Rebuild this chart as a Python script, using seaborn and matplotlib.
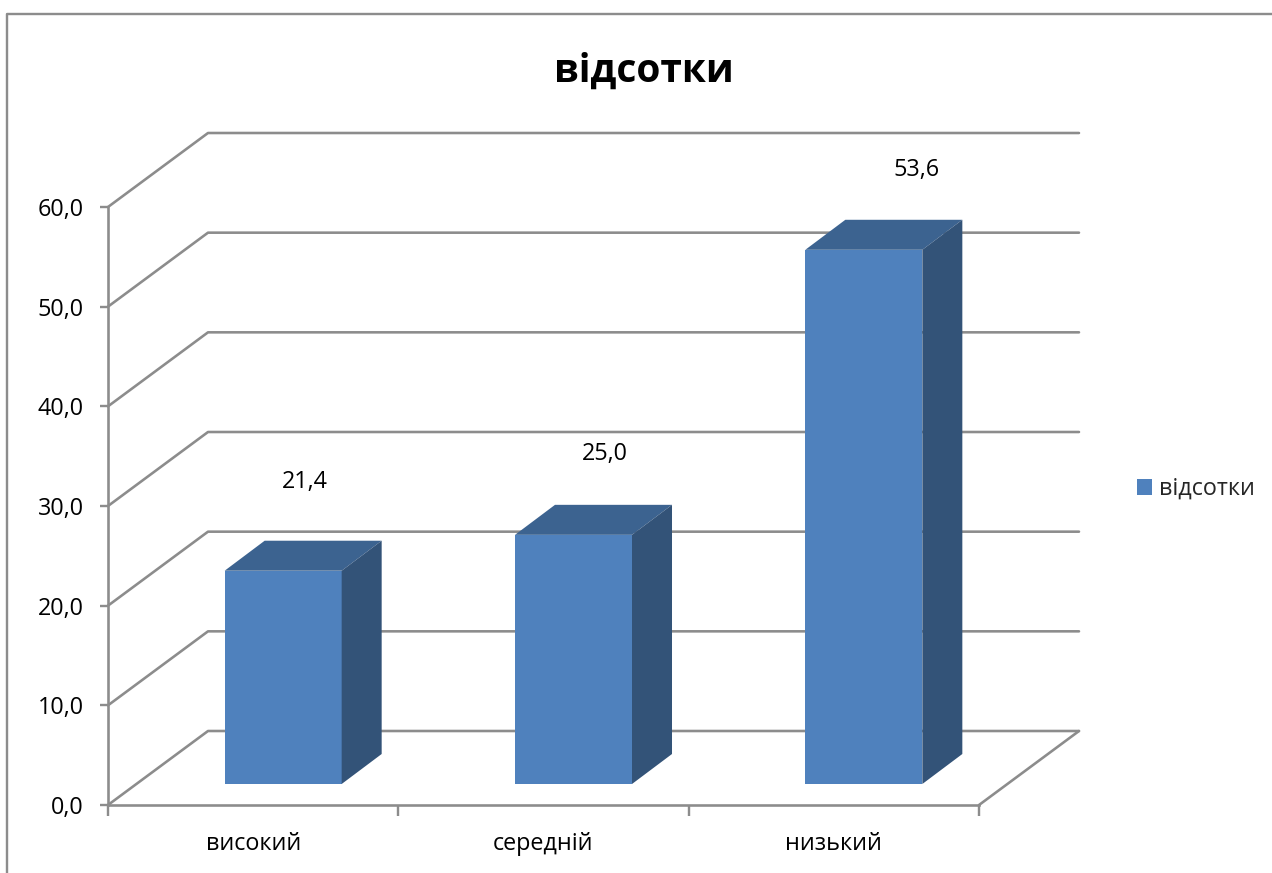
import matplotlib
matplotlib.use('Agg')
import matplotlib.pyplot as plt
import seaborn as sns
from matplotlib.lines import Line2D
from matplotlib.patches import Polygon
from matplotlib.transforms import Affine2D, IdentityTransform

categories = ['високий', 'середній', 'низький']
values = [21.4, 25.0, 53.6]
value_labels = ['21,4', '25,0', '53,6']
y_ticks = [0, 10, 20, 30, 40, 50, 60]
y_tick_labels = ['0,0', '10,0', '20,0', '30,0', '40,0', '50,0', '60,0']
series_name = 'відсотки'

W, H = 1272, 873
GRAY = '#8c8c8c'
FRONT, TOP, SIDE = '#4f81bd', '#3c6390', '#335378'
PX = 0.72  # points per pixel at dpi 100
FONT = 16.8

sns.set_style('white')
plt.rcParams['font.family'] = ['Open Sans', 'DejaVu Sans']
plt.rcParams['axes.unicode_minus'] = False

fig = plt.figure(figsize=(W / 100, H / 100), dpi=100)
ax = fig.add_axes([108 / W, (H - 805) / H, 871 / W, 598 / H])
ax.patch.set_alpha(0)

sns.barplot(x=categories, y=values, width=0.403, color=FRONT, saturation=1,
            linewidth=0, zorder=3, ax=ax)
ax.set_xlim(-0.5, 2.5)
ax.set_ylim(0, 60)

# the chart is a fake 3d one: all depth shifts are in pixels
wall = (100, 74)
bar_shift = (30, 21)
bar_depth = (40, 30)
to_px = ax.transData.transform
px = IdentityTransform()
line_kw = dict(color=GRAY, lw=2.6 * PX, transform=px, clip_on=False, zorder=1,
               solid_capstyle='round')

# back wall and left wall lines
for t in y_ticks:
    x0, y0 = to_px((-0.5, t))
    x1, _ = to_px((2.5, t))
    ax.plot([x0, x0 + wall[0], x1 + wall[0]], [y0, y0 + wall[1], y0 + wall[1]], **line_kw)
# floor edge on the right
x1, y0 = to_px((2.5, 0))
ax.plot([x1, x1 + wall[0]], [y0, y0 + wall[1]], **line_kw)

# move the front faces into the depth and add top and side faces
shift = ax.transData + Affine2D().translate(*bar_shift)
label_offsets = [(22, 91), (31, 83), (53, 82)]
for bar, label, (off, lift) in zip(ax.patches, value_labels, label_offsets):
    bar.set_transform(shift)
    (xa, ya), (xb, yb) = to_px((bar.get_x(), 0)), to_px((bar.get_x() + bar.get_width(), bar.get_height()))
    xa, xb = xa + bar_shift[0], xb + bar_shift[0]
    ya, yb = ya + bar_shift[1], yb + bar_shift[1]
    dx, dy = bar_depth
    ax.add_patch(Polygon([(xa, yb), (xb, yb), (xb + dx, yb + dy), (xa + dx, yb + dy)],
                         closed=True, fc=TOP, ec='none', transform=px, clip_on=False, zorder=3))
    ax.add_patch(Polygon([(xb, ya), (xb + dx, ya + dy), (xb + dx, yb + dy), (xb, yb)],
                         closed=True, fc=SIDE, ec='none', transform=px, clip_on=False, zorder=3))
    ax.annotate(label, xy=((xa + xb) / 2 + off, yb + lift - 2), xycoords=px, ha='center', va='center',
                fontsize=FONT, color='black', zorder=5)

# axes
sns.despine(ax=ax, top=True, right=True)
for side in ['left', 'bottom']:
    ax.spines[side].set_color(GRAY)
    ax.spines[side].set_linewidth(2.6 * PX)
ax.set_yticks(y_ticks, y_tick_labels)
ax.tick_params(axis='y', left=True, length=8 * PX, width=2.4 * PX, color=GRAY, pad=16 * PX,
               labelsize=FONT, labelcolor='black')
ax.set_xticks(range(len(categories)), categories)
ax.set_xticks([-0.5, 0.5, 1.5, 2.5], minor=True)
ax.tick_params(axis='x', which='major', bottom=False, pad=22 * PX, labelsize=FONT, labelcolor='black')
ax.tick_params(axis='x', which='minor', bottom=True, length=11 * PX, width=2.4 * PX, color=GRAY)

# legend
ax.legend(handles=[ax.patches[0]], labels=[series_name], loc='center left',
          bbox_to_anchor=(1137 / W, (H - 489) / H), bbox_transform=fig.transFigure,
          frameon=False, fontsize=FONT, handlelength=0.64, handleheight=0.64,
          handletextpad=0.3, borderpad=0, borderaxespad=0)

# title and chart frame
fig.text(644 / W, (H - 71) / H, series_name, ha='center', va='center', fontsize=28,
         fontweight='bold', color='black')
fig.add_artist(Line2D([1, 6.5 / W, 6.5 / W], [(H - 13.5) / H, (H - 13.5) / H, 0],
                      color=GRAY, lw=2.4 * PX))

fig.savefig('out.png', dpi=100, facecolor='white')
